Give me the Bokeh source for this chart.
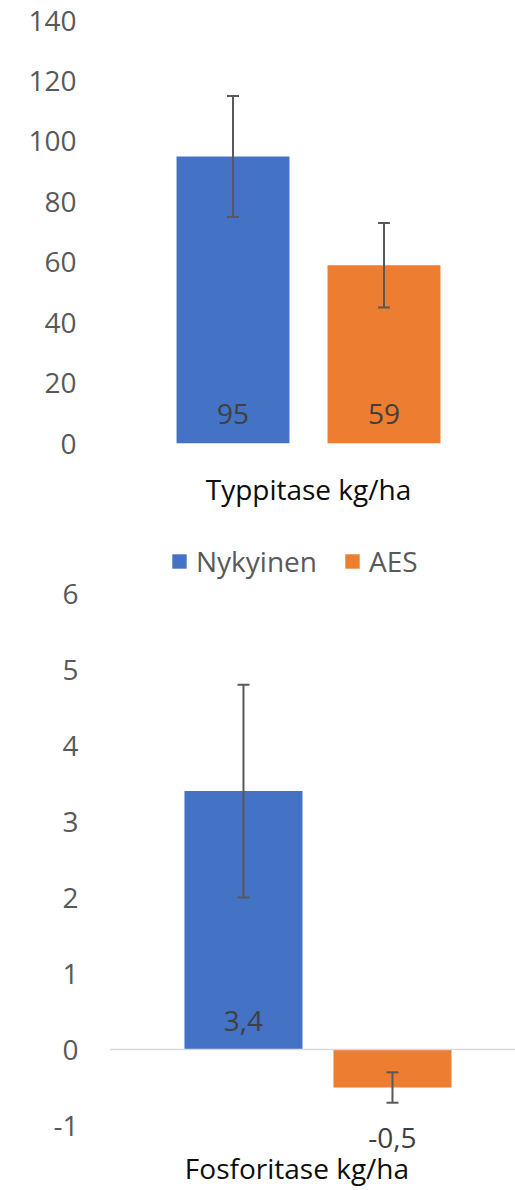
from bokeh.plotting import figure
from bokeh.models import (ColumnDataSource, Range1d, FixedTicker, Whisker, TeeHead,
                          LabelSet, Span, Label)
from bokeh.layouts import column
from bokeh.core.properties import value
from bokeh.embed import file_html
from bokeh.resources import INLINE

# ---------------- data ----------------
series = ["Nykyinen", "AES"]
colors = ["#4472C4", "#ED7D31"]

n_category = "Typpitase kg/ha"
n_values = [95, 59]
n_err = [20, 14]
n_ticks = [0, 20, 40, 60, 80, 100, 120, 140]

p_category = "Fosforitase kg/ha"
p_values = [3.4, -0.5]
p_err = [1.4, 0.2]
p_ticks = [-1, 0, 1, 2, 3, 4, 5, 6]

# ---------------- style ----------------
FONT = "Open Sans"
FS = "28px"
TICK_COLOR = "#595959"
LABEL_COLOR = "#404040"
ERR_COLOR = "#595959"
offsets = [-0.5, 0.5]


def fmt(v):
    return ("%g" % v).replace(".", ",")


def style_common(p, ticks, y_standoff):
    p.grid.visible = False
    p.outline_line_color = None
    p.background_fill_color = "white"
    p.border_fill_color = "white"
    for ax in p.xaxis + p.yaxis:
        ax.axis_line_color = None
        ax.major_tick_line_color = None
        ax.minor_tick_line_color = None
        ax.major_tick_out = 0
        ax.major_tick_in = 0
        ax.major_label_text_font = FONT
        ax.major_label_text_font_size = FS
    p.yaxis.ticker = FixedTicker(ticks=ticks)
    p.yaxis.major_label_overrides = {t: str(t) for t in ticks}
    p.yaxis.major_label_text_color = TICK_COLOR
    p.yaxis.major_label_standoff = y_standoff


def add_whiskers(p, src):
    w = Whisker(source=src, base="x", upper="upper", lower="lower",
                line_color=ERR_COLOR, line_width=2, level="overlay",
                upper_head=TeeHead(size=12, line_color=ERR_COLOR, line_width=2),
                lower_head=TeeHead(size=12, line_color=ERR_COLOR, line_width=2))
    p.add_layout(w)


def make_source(vals, errs, pos_off, neg_off):
    return ColumnDataSource(dict(
        x=offsets,
        top=vals,
        upper=[v + e for v, e in zip(vals, errs)],
        lower=[v - e for v, e in zip(vals, errs)],
        color=colors,
        series=series,
        label=[fmt(v) for v in vals],
        ly=[0 if v > 0 else v for v in vals],
        loff=[pos_off if v > 0 else neg_off for v in vals],
    ))


# ---------------- top chart: Typpitase ----------------
top_src = make_source(n_values, n_err, 30, -50)

p1 = figure(frame_width=406, frame_height=423,
            min_border_top=20, min_border_left=109, min_border_right=0,
            min_border_bottom=69,
            x_range=Range1d(-1.318, 1.371), y_range=Range1d(0, 140),
            output_backend="svg", toolbar_location=None)
p1.vbar(x="x", top="top", bottom=0, width=0.748, fill_color="color",
        line_color=None, source=top_src)
add_whiskers(p1, top_src)
p1.add_layout(LabelSet(x="x", y="ly", y_offset="loff", text="label", source=top_src,
                       text_align="center", text_baseline="middle",
                       text_font=value(FONT), text_font_size=value(FS),
                       text_color=LABEL_COLOR))
style_common(p1, n_ticks, 33)
p1.xaxis.ticker = FixedTicker(ticks=[0])
p1.xaxis.major_label_overrides = {0: n_category}
p1.xaxis.major_label_text_color = "#0D0D0D"
p1.xaxis.major_label_standoff = 26

# ---------------- bottom chart: Fosforitase ----------------
bot_src = make_source(p_values, p_err, 29, -50)

p2 = figure(frame_width=406, frame_height=678,
            min_border_top=0, min_border_left=109, min_border_right=0,
            min_border_bottom=0, x_axis_location=None,
            x_range=Range1d(-1.399, 1.3255), y_range=Range1d(-1.855, 7.066),
            output_backend="svg", toolbar_location=None)
p2.vbar(x="x", top="top", bottom=0, width=0.792, fill_color="color",
        line_color=None, source=bot_src, legend_field="series")
p2.add_layout(Span(location=0, dimension="width", line_color="#D9D9D9", line_width=1.5))
add_whiskers(p2, bot_src)
p2.add_layout(LabelSet(x="x", y="ly", y_offset="loff", text="label", source=bot_src,
                       text_align="center", text_baseline="middle",
                       text_font=value(FONT), text_font_size=value(FS),
                       text_color=LABEL_COLOR))
style_common(p2, p_ticks, 31)
# category label of the bottom chart (placed inside the frame, under the -1 tick)
p2.add_layout(Label(x=0, y=-1.776, x_offset=-21, y_offset=16, text=p_category,
                    text_align="center", text_baseline="alphabetic",
                    text_font=FONT, text_font_size=FS, text_color="#0D0D0D"))

lg = p2.legend[0]
lg.location = (61, 610)
lg.orientation = "horizontal"
lg.border_line_color = None
lg.background_fill_alpha = 0
lg.padding = 0
lg.margin = 0
lg.spacing = 26
lg.glyph_width = 18
lg.glyph_height = 18
lg.label_standoff = 8
lg.label_text_font = FONT
lg.label_text_font_size = FS
lg.label_text_color = TICK_COLOR

layout = column(p1, p2, spacing=0)
open("out.html", "w").write(file_html(layout, INLINE))
